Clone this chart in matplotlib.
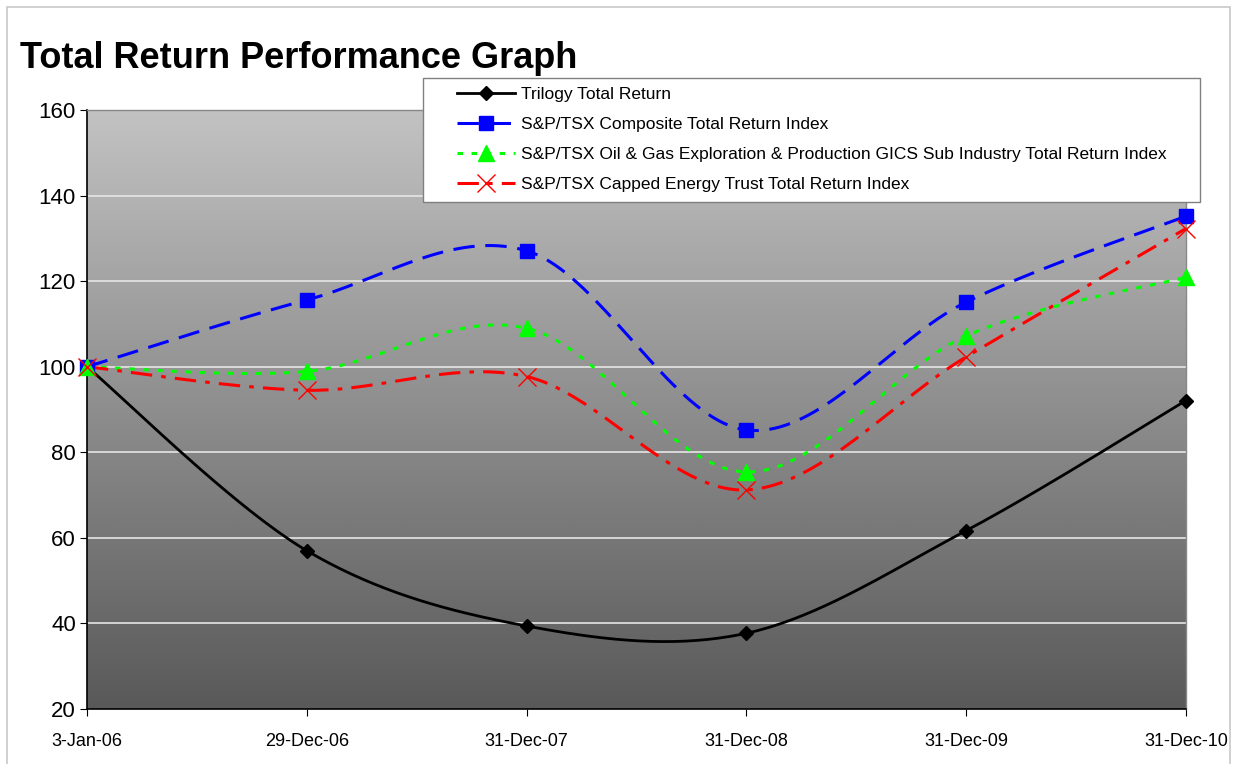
import matplotlib.pyplot as plt
import matplotlib as mpl
import numpy as np
from matplotlib.patches import Rectangle

plt.rcParams['font.family'] = ['Liberation Sans', 'DejaVu Sans']

dates = ["3-Jan-06", "29-Dec-06", "31-Dec-07", "31-Dec-08", "31-Dec-09", "31-Dec-10"]
trilogy = [100, 57.0, 39.4, 37.7, 61.7, 92.1]
composite = [100, 115.6, 127.1, 85.2, 115.1, 135.2]
oil_gas = [100, 98.9, 109.0, 75.4, 107.2, 120.9]
energy_trust = [100, 94.5, 97.7, 71.2, 102.3, 132.3]

labels = [
    "Trilogy Total Return",
    "S&P/TSX Composite Total Return Index",
    "S&P/TSX Oil & Gas Exploration & Production GICS Sub Industry Total Return Index",
    "S&P/TSX Capped Energy Trust Total Return Index",
]


def smooth(xs, ys, n=40):
    # Excel-like smoothed line: cubic Bezier with Catmull-Rom tangents
    xs = np.asarray(xs, float)
    ys = np.asarray(ys, float)
    pts = np.column_stack([xs, ys])
    out = []
    for i in range(len(pts) - 1):
        p0 = pts[max(i - 1, 0)]
        p1 = pts[i]
        p2 = pts[i + 1]
        p3 = pts[min(i + 2, len(pts) - 1)]
        c1 = p1 + (p2 - p0) / 6
        c2 = p2 - (p3 - p1) / 6
        t = np.linspace(0, 1, n)[:, None]
        seg = ((1 - t) ** 3) * p1 + 3 * ((1 - t) ** 2) * t * c1 + 3 * (1 - t) * t ** 2 * c2 + t ** 3 * p2
        out.append(seg if i == 0 else seg[1:])
    out = np.vstack(out)
    return out[:, 0], out[:, 1]


W, H = 1234, 764
fig = plt.figure(figsize=(W / 100, H / 100), dpi=100)
fig.patch.set_facecolor("white")
# outer chart-area border
fig.patches.append(Rectangle((7 / W, -0.1), 1223 / W, 1.1 - 7 / H,
                             transform=fig.transFigure, fill=False,
                             edgecolor="#c8c8c8", lw=1.2))

ax = fig.add_axes([87 / W, 1 - 709 / H, 1099 / W, 599 / H])

# grey gradient background
grad = np.linspace(0.35, 0.76, 256)[:, None]
ax.imshow(grad, extent=[0, 5, 20, 160], origin="lower", aspect="auto",
          cmap="gray", vmin=0, vmax=1, zorder=0, interpolation="bicubic")

ax.set_xlim(0, 5)
ax.set_ylim(20, 160)
ax.set_yticks(np.arange(20, 161, 20))
ax.set_xticks(range(len(dates)))
ax.set_xticklabels(dates)

for yv in range(40, 160, 20):
    ax.axhline(yv, color="#e6e6e6", lw=1.2, zorder=1)

x = np.arange(len(dates))

series = [
    (trilogy, dict(color="black", lw=2.0, ls="-"), dict(marker="D", ms=7, mfc="black", mec="black")),
    (composite, dict(color="#0000ff", lw=2.2, ls=(0, (7, 3.5))), dict(marker="s", ms=10, mfc="#0000ff", mec="#0000ff")),
    (oil_gas, dict(color="#00ff00", lw=2.2, ls=(0, (1.8, 2.8))), dict(marker="^", ms=11, mfc="#00ff00", mec="#00ff00")),
    (energy_trust, dict(color="#ff0000", lw=2.2, ls=(0, (7, 3, 1.5, 3))), dict(marker="x", ms=13, mec="#ff0000", mew=1.0)),
]

handles = []
for vals, lstyle, mstyle in series:
    sx, sy = smooth(x, vals)
    ax.plot(sx, sy, zorder=3, clip_on=False, **lstyle)
    ax.plot(x, vals, ls="none", zorder=4, clip_on=False, **mstyle)
    h, = ax.plot([], [], **lstyle, **mstyle)
    handles.append(h)

for side in ["top", "right"]:
    ax.spines[side].set_color("#888888")
    ax.spines[side].set_linewidth(1.0)
for side in ["left", "bottom"]:
    ax.spines[side].set_color("black")
    ax.spines[side].set_linewidth(1.2)

ax.tick_params(axis="y", labelsize=16, length=5, pad=3)
ax.tick_params(axis="x", labelsize=13, length=5, pad=12)

fig.text(20 / W, 1 - 68 / H, "Total Return Performance Graph",
         fontsize=26, fontweight="bold", ha="left", va="baseline")

# legend box drawn separately so it can be wider than its contents
box = Rectangle((423 / W, 1 - 202 / H), 777 / W, 124 / H,
                transform=fig.transFigure, facecolor="white",
                edgecolor="#808080", lw=1.0, zorder=9)
fig.patches.append(box)

leg = fig.legend(handles, labels, loc="upper left",
                 bbox_to_anchor=(457 / W, 1 - 87 / H),
                 fontsize=12.5, frameon=False,
                 handlelength=3.33, numpoints=1, labelspacing=0.86,
                 borderpad=0, handletextpad=0.35, borderaxespad=0)
leg.set_zorder(10)

fig.savefig("out.png", dpi=100)
